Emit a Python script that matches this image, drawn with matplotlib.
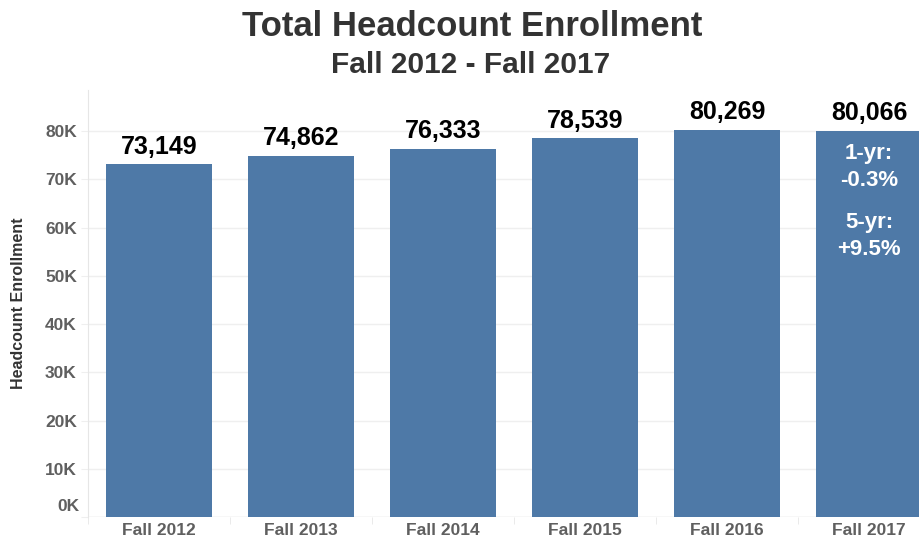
import numpy as np
import matplotlib.pyplot as plt
import matplotlib.transforms as mtransforms
from matplotlib.ticker import FuncFormatter, MultipleLocator

plt.rcParams['font.family'] = ['Liberation Sans', 'DejaVu Sans']

terms = ['Fall 2012', 'Fall 2013', 'Fall 2014', 'Fall 2015', 'Fall 2016', 'Fall 2017']
headcount = [73149, 74862, 76333, 78539, 80269, 80066]
note_1yr = '1-yr:\n-0.3%'
note_5yr = '5-yr:\n+9.5%'

bar_color = '#4e79a7'
grid_color = '#efefef'
label_color = '#5f5f5f'

fig = plt.figure(figsize=(9.2, 5.4), dpi=100)
# axes run past the right edge, like the cropped original
ax = fig.add_axes([88/920, 23/540, 852/920, 427/540])

x = np.arange(len(terms))
ax.bar(x, headcount, width=0.747, color=bar_color, zorder=2)

for xi, v in zip(x, headcount):
    ax.annotate(f'{v:,}', (xi, v), xytext=(0, 4), textcoords='offset points',
                ha='center', va='bottom', fontsize=18, fontweight='bold', color='black')

ax.text(x[-1], 72500, note_1yr, ha='center', va='center', fontsize=16,
        fontweight='bold', color='white', linespacing=1.4)
ax.text(x[-1], 58300, note_5yr, ha='center', va='center', fontsize=16,
        fontweight='bold', color='white', linespacing=1.4)

ax.set_xlim(-0.5, len(terms) - 0.5)
ax.set_ylim(0, 88500)
ax.yaxis.set_major_locator(MultipleLocator(10000))
# the 0K label sits a bit above the baseline in the original, drawn separately below
ax.yaxis.set_major_formatter(FuncFormatter(lambda v, p: f'{int(v/1000)}K' if v > 0 else ''))
ax.set_xticks(x)
ax.set_xticklabels(terms)
ax.set_xticks(np.arange(-0.5, len(terms)), minor=True)

ax.grid(axis='y', color=grid_color, linewidth=1, zorder=0)
for s in ['top', 'right', 'bottom']:
    ax.spines[s].set_visible(False)
ax.spines['left'].set_color('#e6e6e6')
ax.axhline(0, color='#e6e6e6', linewidth=1, zorder=1)

ax.tick_params(axis='y', length=5, color=grid_color, pad=3,
               labelsize=12.5, labelcolor=label_color)
ax.tick_params(axis='x', which='major', length=0, pad=4,
               labelsize=12.5, labelcolor=label_color)
ax.tick_params(axis='x', which='minor', length=5, color='#e6e6e6')
for lab in ax.get_xticklabels() + ax.get_yticklabels():
    lab.set_fontweight('bold')

trans = mtransforms.blended_transform_factory(ax.transAxes, ax.transData)
ax.annotate('0K', (0, 0), xycoords=trans, xytext=(-6, 7.5), textcoords='offset points',
            ha='right', va='center', fontsize=12.5, fontweight='bold', color=label_color)

ax.set_ylabel('Headcount Enrollment', fontsize=11.5, fontweight='bold',
              color='#333333', labelpad=14)

fig.text(472/920, 1 - 27/540, 'Total Headcount Enrollment', ha='center', va='center',
         fontsize=25, fontweight='bold', color='#333333')
fig.text(471/920, 1 - 65/540, 'Fall 2012 - Fall 2017', ha='center', va='center',
         fontsize=21.5, fontweight='bold', color='#333333')

fig.savefig('out.png', dpi=100)
